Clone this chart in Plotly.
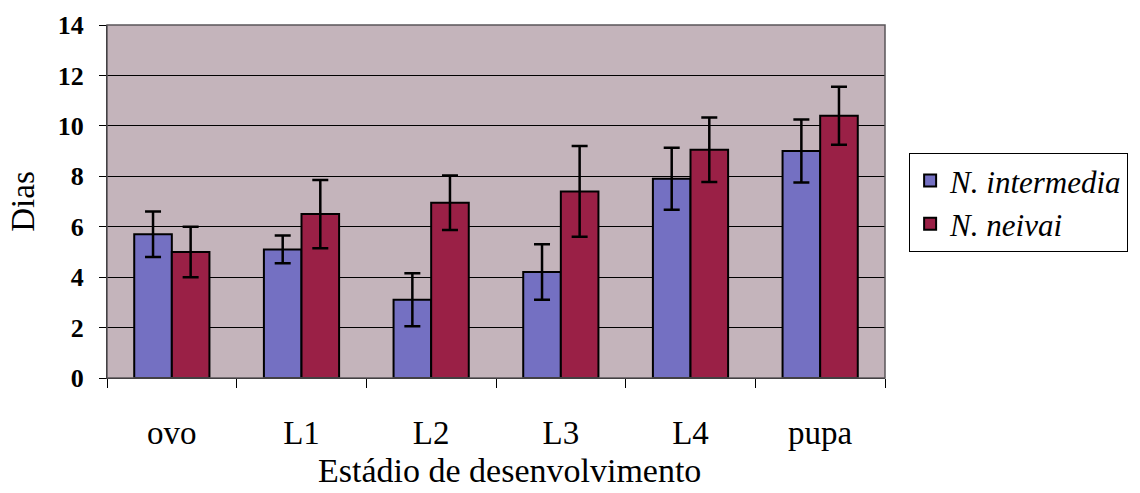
import plotly.graph_objects as go

# Data
stages = ["ovo", "L1", "L2", "L3", "L4", "pupa"]
intermedia_mean = [5.7, 5.1, 3.1, 4.2, 7.9, 9.0]
intermedia_err = [0.9, 0.55, 1.05, 1.1, 1.23, 1.25]
neivai_mean = [5.0, 6.5, 6.95, 7.4, 9.05, 10.4]
neivai_err = [1.0, 1.35, 1.08, 1.8, 1.28, 1.15]

serif = "Liberation Serif"

fig = go.Figure()

fig.add_trace(
    go.Bar(
        x=stages,
        y=intermedia_mean,
        name="N. intermedia",
        marker=dict(color="#7470C2", line=dict(color="black", width=2)),
        error_y=dict(type="data", array=intermedia_err, color="black",
                     thickness=2.5, width=8),
    )
)
fig.add_trace(
    go.Bar(
        x=stages,
        y=neivai_mean,
        name="N. neivai",
        marker=dict(color="#9A2046", line=dict(color="black", width=2)),
        error_y=dict(type="data", array=neivai_err, color="black",
                     thickness=2.5, width=8),
    )
)

fig.update_layout(
    width=1140,
    height=493,
    margin=dict(l=107, r=249, t=25, b=115),
    paper_bgcolor="white",
    plot_bgcolor="#C4B4BB",
    barmode="group",
    bargap=0.42,
    bargroupgap=0,
    font=dict(family=serif, color="black"),
    showlegend=True,
    legend=dict(
        x=1.031,
        y=0.638,
        xanchor="left",
        yanchor="top",
        bgcolor="white",
        bordercolor="black",
        borderwidth=1,
        font=dict(size=31, family=serif, style="italic"),
        itemwidth=30,
    ),
    xaxis=dict(
        tickfont=dict(size=33),
        ticks="outside",
        tickson="boundaries",
        ticklen=9,
        tickcolor="black",
        ticklabelstandoff=25,
        showline=True,
        linecolor="black",
        linewidth=1,
        showgrid=False,
        automargin=False,
    ),
    yaxis=dict(
        title=dict(text="Dias", font=dict(size=33), standoff=13),
        range=[0, 14],
        dtick=2,
        tickfont=dict(size=26, weight="bold"),
        ticks="outside",
        ticklen=7,
        tickcolor="black",
        ticklabelstandoff=10,
        showline=True,
        linecolor="black",
        linewidth=1,
        showgrid=True,
        gridcolor="black",
        gridwidth=1,
        zeroline=False,
        automargin=False,
    ),
    shapes=[
        dict(type="rect", xref="paper", yref="paper", x0=0, y0=0, x1=1, y1=1,
             line=dict(color="#5A565A", width=1.5), layer="above"),
    ],
    annotations=[
        dict(text="Estádio de desenvolvimento", xref="paper", yref="paper",
             x=0.517, y=-0.262, xanchor="center", yanchor="middle",
             showarrow=False, font=dict(size=34)),
    ],
)

fig.write_html(
    "out.html",
    config={"displayModeBar": False},
    post_script="document.body.style.margin='0';",
)
